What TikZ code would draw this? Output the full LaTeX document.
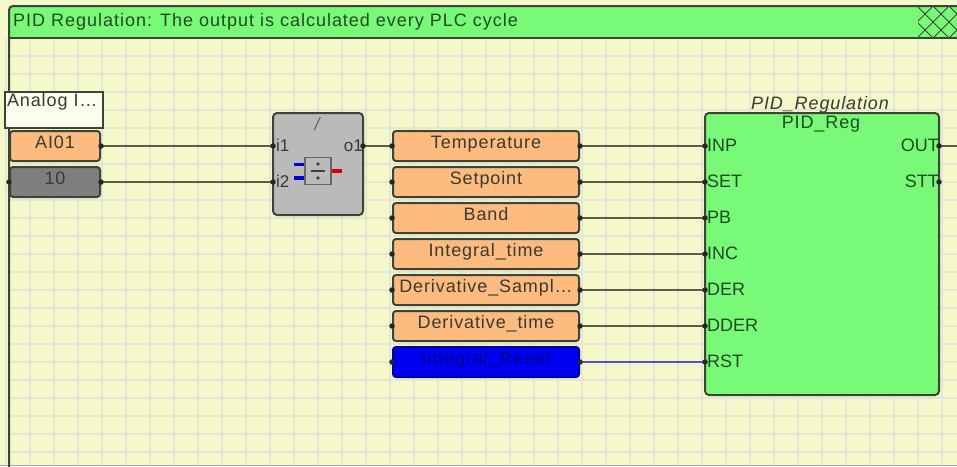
\documentclass[tikz,border=0pt]{standalone}
\usepackage{fontspec}
\setmainfont{Liberation Sans}
\newfontfamily\lsfont[LetterSpace=5]{Liberation Sans}
\newfontfamily\ttlfont[LetterSpace=5.5]{Liberation Sans}
\definecolor{bgc}{HTML}{F5F8C8}
\definecolor{gridc}{HTML}{E3E6D6}
\definecolor{framec}{HTML}{3C4438}
\definecolor{hdr}{HTML}{78FA78}
\definecolor{org}{HTML}{FDBB80}
\definecolor{gryb}{HTML}{BABABA}
\definecolor{dgry}{HTML}{7E7E7E}
\definecolor{blu}{HTML}{0000F0}
\definecolor{wirec}{HTML}{5A5C4C}
\definecolor{bwire}{HTML}{5050C8}
\definecolor{txt}{HTML}{3A3A30}
\definecolor{ptxt}{HTML}{1F4A22}
\tikzset{
  lbl/.style={font=\lsfont\fontsize{18}{18}\selectfont, text=txt, inner sep=0pt},
  blockbox/.style={draw=framec, line width=2pt, rounded corners=3pt, minimum width=90pt, minimum height=30pt, inner sep=0pt, font=\lsfont\fontsize{18}{18}\selectfont, text=txt, text height=14pt, text depth=9pt},
  varbox/.style={blockbox, fill=org, minimum width=186pt},
  wire/.style={draw=wirec, line width=2.6pt},
  bluewire/.style={draw=bwire, line width=2.6pt},
  pin/.style={fill=black!85, circle, inner sep=0pt, minimum size=5.5pt},
  port/.style={font=\fontsize{18}{18}\selectfont, inner sep=0pt, text=ptxt, text height=16pt, text depth=5pt},
  pinlabel/.style={font=\fontsize{17}{17}\selectfont, inner sep=0pt, text=txt, text height=16pt, text depth=5pt},
}
\begin{document}
\begin{tikzpicture}[x=1pt,y=-1pt]
\useasboundingbox (0,0) rectangle (957,466);
\fill[bgc] (0,0) rectangle (957,466);
% grid
\foreach \gx in {6,30,...,954} \draw[gridc, line width=2pt] (\gx,38) -- (\gx,466);
\foreach \gy in {56,74,...,452} \draw[gridc, line width=2pt] (9,\gy) -- (957,\gy);
\draw[gray!70, line width=1pt] (0,465.5) -- (957,465.5);
% frame and header
\fill[hdr] (9,6) rectangle (957,38);
\begin{scope}
\clip (918,7) rectangle (957,37);
\foreach \hx in {870,886,...,982} {
  \draw[framec, line width=1pt] (\hx,7) -- (\hx+30,37);
  \draw[framec, line width=1pt] (\hx,37) -- (\hx+30,7);
}
\end{scope}
\draw[framec, line width=2pt, rounded corners=4pt] (9,467) -- (9,6) -- (958,6);
\draw[framec, line width=2pt] (9,38) -- (957,38);
\node[lbl, font=\ttlfont\fontsize{18}{18}\selectfont, anchor=base west, text=ptxt] (title) at (13,26) {PID Regulation: The output is calculated every PLC cycle};
% inputs
\node[draw=framec, line width=2pt, fill=bgc!30!white, minimum width=98pt, minimum height=36pt, inner sep=0pt, text width=94pt, align=left, font=\lsfont\fontsize{18}{18}\selectfont, text=txt, text height=13pt, text depth=19.6pt] (analog) at (54,110) {Analog I\dots};
\node[blockbox, fill=org] (ai) at (55,146) {AI01};
\node[blockbox, fill=dgry] (ten) at (55,182) {10};
% divide block
\node[draw=framec, line width=2pt, fill=gryb, rounded corners=4pt, minimum width=90pt, minimum height=102pt] (div) at (318,164) {};
\node[lbl, font=\itshape\fontsize{18}{18}\selectfont, text=black!60] (divname) at (317,124) {/};
\node[pinlabel, anchor=west] (i1) at (273,146) {\hspace{3pt}i1};
\node[pinlabel, anchor=west] (i2) at (273,182) {\hspace{3pt}i2};
\node[pinlabel, anchor=east] (o1) at (363,146) {o1\hspace{3pt}};
\node[draw=black!60, line width=1.2pt, fill=gryb, minimum width=26pt, minimum height=27pt, inner sep=0pt] (icon) at (318,171) {};
\draw[blue!85!black, line width=3.5pt] (294,164.5) -- (icon.west |- 0,164.5);
\draw[blue!85!black, line width=3.5pt] (294,178) -- (icon.west |- 0,178);
\draw[red!85!black, line width=3.5pt] (icon.east) -- ++(10,0);
\draw[black!75, line width=1.3pt] (311,171) -- (325,171);
\fill[black!75] (318,164) circle (1.8pt) (318,178) circle (1.8pt);
% variables
\node[varbox] (temp) at (486,146) {Temperature};
\node[varbox] (setp) at (486,182) {Setpoint};
\node[varbox] (band) at (486,218) {Band};
\node[varbox] (intt) at (486,254) {Integral\_time};
\node[varbox] (ders) at (486,290) {Derivative\_Sampl\dots};
\node[varbox] (dert) at (486,326) {Derivative\_time};
\node[blockbox, fill=blu, minimum width=186pt, draw=blue!60!black, text=blue!55!black] (rst) at (486,362) {Integral\_Reset};
% PID block
\node[draw=framec, line width=2pt, fill=hdr, rounded corners=4pt, minimum width=234pt, minimum height=282pt] (pid) at (822,254) {};
\node[lbl, font=\lsfont\itshape\fontsize{18}{18}\selectfont] (pidname) at (820,105) {PID\_Regulation};
\node[lbl, text=ptxt] (pidreg) at (821,124) {PID\_Reg};
\foreach \pn/\pt/\py in {inp/INP/146,set/SET/182,pb/PB/218,inc/INC/254,der/DER/290,dder/DDER/326,rs/RST/362}
  \node[port, anchor=west] (\pn) at (705,\py) {\hspace{2pt}\pt};
\node[port, anchor=east] (out) at (939,146) {OUT\hspace{3pt}};
\node[port, anchor=east] (stt) at (939,182) {STT\hspace{3pt}};
\coordinate (exit) at (957,146);
% connectors
\draw[wire] (ai.east) -- (i1.west);
\draw[wire] (ten.east) -- (i2.west);
\draw[wire] (o1.east) -- (temp.west);
\draw[wire] (temp.east) -- (inp.west);
\draw[wire] (setp.east) -- (set.west);
\draw[wire] (band.east) -- (pb.west);
\draw[wire] (intt.east) -- (inc.west);
\draw[wire] (ders.east) -- (der.west);
\draw[wire] (dert.east) -- (dder.west);
\draw[bluewire] (rst.east) -- (rs.west);
\draw[wire] (out.east) -- (exit);
% pins
\foreach \pp in {ai.east,ten.east,ten.west,i1.west,i2.west,o1.east,temp.west,temp.east,setp.west,setp.east,band.west,band.east,intt.west,intt.east,ders.west,ders.east,dert.west,dert.east,rst.west,rst.east,inp.west,set.west,pb.west,inc.west,der.west,dder.west,rs.west,out.east,stt.east}
  \node[pin] at (\pp) {};
\end{tikzpicture}
\end{document}
